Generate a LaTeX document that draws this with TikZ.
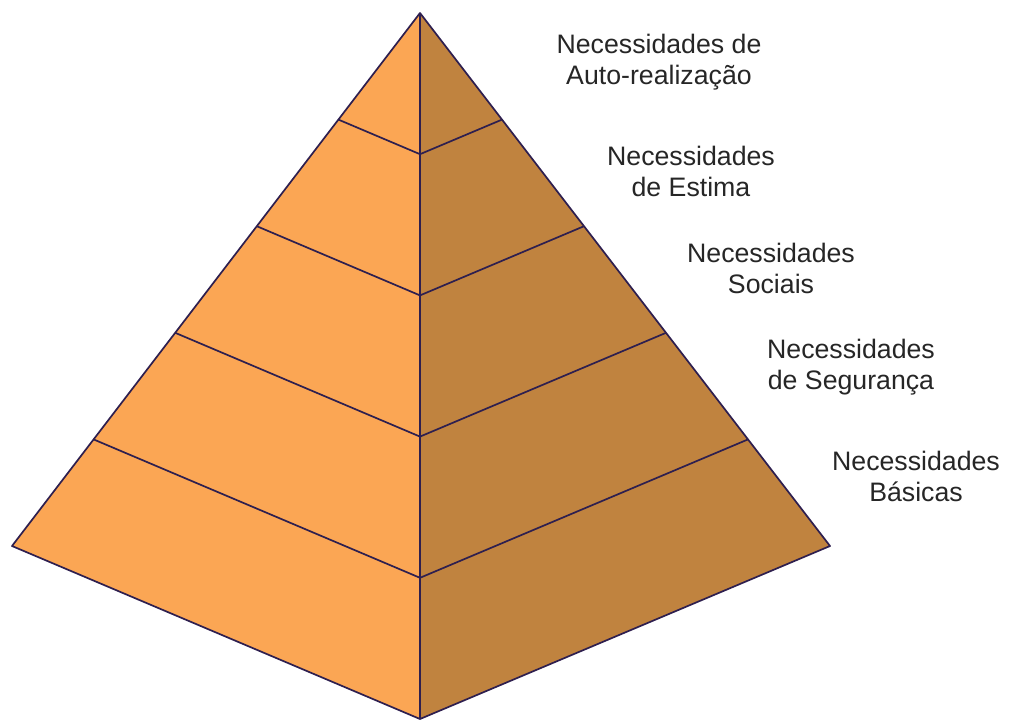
\documentclass[tikz,border=0pt]{standalone}
\usepackage{fontspec}
\setmainfont{Liberation Sans}
\usepackage{tikz}
\usetikzlibrary{calc}

\definecolor{faceleft}{HTML}{FBA654}
\definecolor{faceright}{HTML}{C0833F}
\definecolor{edgeline}{HTML}{2E1F4F}

\begin{document}
\begin{tikzpicture}[x=1pt, y=-1pt,
    edge/.style={draw=edgeline, line width=1.7pt, line join=round},
    level/.style={font=\fontsize{26.7}{31}\selectfont, align=center, anchor=base, text=black!85}]
    \useasboundingbox (0, 0) rectangle (1009, 720);

    % Corners of the pyramid
    \coordinate (apex) at (420, 13);
    \coordinate (left) at (12, 546);
    \coordinate (right) at (830, 546);
    \coordinate (bottom) at (420, 719);

    % Faces
    \fill[faceleft] (apex) -- (left) -- (bottom) -- cycle;
    \fill[faceright] (apex) -- (bottom) -- (right) -- cycle;

    % Layer lines
    \foreach \t in {0.2, 0.4, 0.6, 0.8} {
        \draw[edge] ($(apex)!\t!(left)$) -- ($(apex)!\t!(bottom)$) -- ($(apex)!\t!(right)$);
    }
    \draw[edge] (apex) -- (left) -- (bottom) -- (right) -- cycle;
    \draw[edge] (apex) -- (bottom);

    % Labels (base = baseline of the second line)
    \node[level] (autorealizacao) at (659, 84) {Necessidades de\\Auto-realização};
    \node[level] (estima) at (691, 196) {Necessidades\\de Estima};
    \node[level] (sociais) at (771, 293) {Necessidades\\Sociais};
    \node[level] (seguranca) at (851, 389) {Necessidades\\de Segurança};
    \node[level] (basicas) at (916, 501) {Necessidades\\Básicas};
\end{tikzpicture}
\end{document}
